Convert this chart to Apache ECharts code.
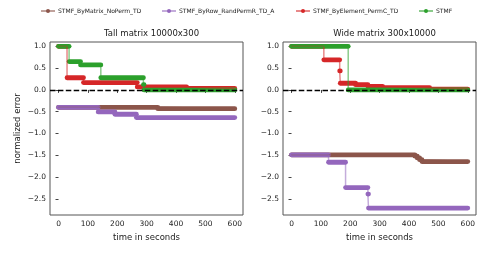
<!DOCTYPE html>
<html><head><meta charset="utf-8">
<script src="https://cdn.jsdelivr.net/npm/echarts@6/dist/echarts.min.js"></script>
<style>html,body{margin:0;padding:0;background:#fff}#c{width:489px;height:254px}</style>
</head><body><div id="c"></div>
<script>
// ---- data (step change points: [time, normalized error]) ----
const seriesNames = ['STMF_ByMatrix_NoPerm_TD', 'STMF_ByRow_RandPermR_TD_A', 'STMF_ByElement_PermC_TD', 'STMF'];
const panelTitles = ['Tall matrix 10000x300', 'Wide matrix 300x10000'];
const xTicks = [0, 100, 200, 300, 400, 500, 600];
const yTicks = [-2.5, -2.0, -1.5, -1.0, -0.5, 0.0, 0.5, 1.0];

const tallBrown  = [[0, -0.40], [338, -0.43], [600, -0.43]];
const tallPurple = [[0, -0.40], [135, -0.505], [192, -0.558], [265, -0.635], [600, -0.635]];
const tallRed    = [[0, 1.0], [29, 0.28], [85, 0.168], [268, 0.07], [436, 0.035], [600, 0.035]];
const tallGreen  = [[0, 1.0], [36, 0.65], [75, 0.573], [144, 0.28], [289, 0.12], [291, 0.0], [600, 0.0]];

const wideBrown  = [[0, -1.49], [420, -1.52], [428, -1.56], [436, -1.60], [444, -1.645], [600, -1.645]];
const widePurple = [[0, -1.49], [126, -1.66], [184, -2.24], [260, -2.39], [262, -2.71], [600, -2.71]];
const wideRed    = [[0, 1.0], [110, 0.69], [164, 0.436], [166, 0.153], [218, 0.12], [260, 0.08], [310, 0.05], [470, 0.02], [600, 0.02]];
const wideGreen  = [[0, 1.0], [193, 0.0], [600, 0.0]];

const colors = ['#8c564b', '#9467bd', '#d62728', '#2ca02c'];
const FONT = 'DejaVu Sans';
const XMIN = -29, XMAX = 628, YMIN = -2.87, YMAX = 1.1;

function segs(pts) {
  const out = [];
  for (let i = 0; i < pts.length - 1; i++) out.push([pts[i][0], pts[i + 1][0], pts[i][1]]);
  return out;
}
function fmtY(v) { const s = Math.abs(v).toFixed(1); return v < 0 ? '\u2212' + s : s; }

const panels = [[tallBrown, tallPurple, tallRed, tallGreen], [wideBrown, widePurple, wideRed, wideGreen]];
const grids = [
  { left: 50, top: 42, width: 193, height: 173, show: true, borderColor: '#555', borderWidth: 1 },
  { left: 283, top: 42, width: 193, height: 173, show: true, borderColor: '#555', borderWidth: 1 }
];
const xAxes = [], yAxes = [], series = [];
panels.forEach((sets, g) => {
  xAxes.push({
    type: 'value', gridIndex: g, min: XMIN, max: XMAX,
    name: 'time in seconds', nameLocation: 'middle', nameGap: 18,
    nameTextStyle: { fontFamily: FONT, fontSize: 8.5, color: '#222' },
    axisLine: { show: false }, splitLine: { show: false },
    axisTick: { show: true, length: 3, lineStyle: { color: '#444' }, customValues: xTicks },
    axisLabel: { fontFamily: FONT, fontSize: 7.5, color: '#222', margin: 5, customValues: xTicks, formatter: v => String(v) }
  });
  yAxes.push({
    type: 'value', gridIndex: g, min: YMIN, max: YMAX,
    name: g === 0 ? 'normalized error' : '', nameLocation: 'middle', nameGap: 28, nameRotate: 90,
    nameTextStyle: { fontFamily: FONT, fontSize: 8.5, color: '#222' },
    axisLine: { show: false }, splitLine: { show: false },
    axisTick: { show: true, length: 3, lineStyle: { color: '#444' }, customValues: yTicks },
    axisLabel: { fontFamily: FONT, fontSize: 7.5, color: '#222', margin: 4, customValues: yTicks, formatter: fmtY }
  });
  sets.forEach((pts, k) => {
    series.push({
      type: 'line', name: seriesNames[k], xAxisIndex: g, yAxisIndex: g, data: pts,
      step: 'end', symbol: 'circle', symbolSize: 5, showSymbol: false,
      lineStyle: { color: colors[k], width: 1.5, opacity: 0.55 }, itemStyle: { color: colors[k] },
      silent: true, animation: false
    });
    const col = colors[k];
    series.push({
      type: 'custom', name: seriesNames[k] + '_band', xAxisIndex: g, yAxisIndex: g,
      data: segs(pts), encode: { x: [0, 1], y: 2 }, silent: true, animation: false,
      renderItem: (params, api) => {
        const p0 = api.coord([api.value(0), api.value(2)]);
        const p1 = api.coord([api.value(1), api.value(2)]);
        return { type: 'line', shape: { x1: p0[0], y1: p0[1], x2: p1[0], y2: p1[1] },
          style: { stroke: col, lineWidth: 4.8, lineCap: 'round' } };
      }
    });
  });
  series.push({
    type: 'line', name: 'zero' + g, xAxisIndex: g, yAxisIndex: g, data: [], z: 10, silent: true, animation: false,
    markLine: { silent: true, symbol: 'none', label: { show: false }, animation: false,
      lineStyle: { color: '#000', type: [5.5, 2.4], width: 1.3 }, data: [{ yAxis: 0 }] }
  });
});

const legendLeft = [40, 161, 295, 418];
const legends = seriesNames.map((n, k) => ({
  data: [n], left: legendLeft[k], top: 8, itemWidth: 14, itemHeight: 5, itemGap: 0,
  textStyle: { fontFamily: FONT, fontSize: 6, color: '#222', padding: [0, 0, 0, -2] },
  padding: 0, selectedMode: false
}));

const chart = echarts.init(document.getElementById('c'), null, { renderer: 'canvas' });
chart.setOption({
  animation: false,
  title: panelTitles.map((t, i) => ({
    text: t, left: (grids[i].left + grids[i].width / 2), top: 24, textAlign: 'center',
    textStyle: { fontFamily: FONT, fontSize: 8.5, fontWeight: 'normal', color: '#222' }
  })),
  legend: legends,
  grid: grids, xAxis: xAxes, yAxis: yAxes, series: series
});
</script></body></html>
